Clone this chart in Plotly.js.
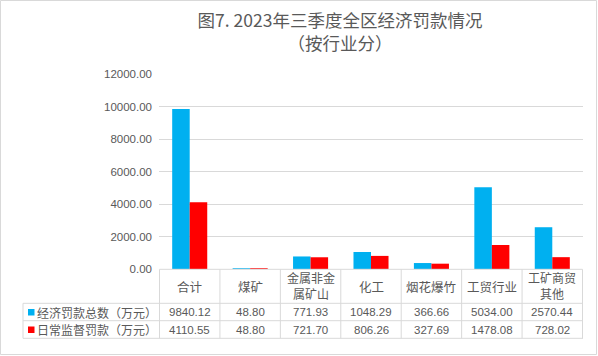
<!DOCTYPE html>
<html>
<head>
<meta charset="utf-8">
<script src="https://cdn.plot.ly/plotly-3.0.1.min.js"></script>
<style>
html,body{margin:0;padding:0;background:#fff;}
#chart{width:598px;height:356px;}
</style>
</head>
<body>
<div id="chart"></div>
<script>
const categories = ['合计', '煤矿', '金属非金属矿山', '化工', '烟花爆竹', '工贸行业', '工矿商贸其他'];
const headerLines = [['合计'], ['煤矿'], ['金属非金', '属矿山'], ['化工'], ['烟花爆竹'], ['工贸行业'], ['工矿商贸', '其他']];
const seriesNames = ['经济罚款总数（万元）', '日常监督罚款（万元）'];
const totalFines = [9840.12, 48.80, 771.93, 1048.29, 366.66, 5034.00, 2570.44];
const dailyFines = [4110.55, 48.80, 721.70, 806.26, 327.69, 1478.08, 728.02];
const yTicks = [0, 2000, 4000, 6000, 8000, 10000, 12000];

const colors = ['#00b0f0', '#ff0000'];
const textColor = '#595959';
const gridColor = '#d9d9d9';
const cjk = '"Noto Sans CJK SC", "Noto Sans", sans-serif';
const num = '"Liberation Sans", Arial, sans-serif';

const W = 598, H = 356;
const L = 159, R = 583, T = 74, B = 269;
const pw = R - L, ph = B - T;
const px = x => (x - L) / pw;
const py = y => (B - y) / ph;

const series = [totalFines, dailyFines];
const traces = series.map((vals, i) => ({
  type: 'bar',
  x: categories,
  y: vals,
  name: seriesNames[i],
  marker: {color: colors[i]},
  hoverinfo: 'x+y'
}));

const rowTop = 269.3, headBot = 303.3, row1Bot = 320.7, row2Bot = 338.3;
const tableLeft = 23;
const shapes = [];
const annotations = [];
const line = {color: gridColor, width: 1};

// outer border
shapes.push({type: 'rect', xref: 'paper', yref: 'paper',
  x0: px(0.5), x1: px(W - 1.5), y0: py(0.5), y1: py(H - 1.5),
  line: {color: gridColor, width: 1}, fillcolor: 'rgba(0,0,0,0)'});

// horizontal table lines
shapes.push({type: 'line', xref: 'x', yref: 'paper', x0: -0.5, x1: categories.length - 0.5, y0: py(rowTop), y1: py(rowTop), line});
[headBot, row1Bot, row2Bot].forEach(yy => {
  shapes.push({type: 'line', xref: 'paper', yref: 'paper', x0: px(tableLeft), x1: 1, y0: py(yy), y1: py(yy), line});
});
// vertical lines
shapes.push({type: 'line', xref: 'paper', yref: 'paper', x0: px(tableLeft), x1: px(tableLeft), y0: py(headBot), y1: py(row2Bot), line});
for (let i = 0; i <= categories.length; i++) {
  shapes.push({type: 'line', xref: 'x', yref: 'paper', x0: i - 0.5, x1: i - 0.5, y0: py(rowTop), y1: py(row2Bot), line});
}

// header labels
headerLines.forEach((lines, i) => {
  const ys = lines.length === 1 ? [286.5] : [277.5, 293];
  lines.forEach((lab, k) => {
    annotations.push({xref: 'x', yref: 'paper', x: i, y: py(ys[k]), text: lab, showarrow: false, borderpad: 0,
      xanchor: 'center', yanchor: 'middle', font: {family: cjk, size: lines.length === 1 ? 12.5 : 12, color: textColor}});
  });
});

// data rows
const rowCenters = [312, 329.5];
series.forEach((vals, r) => {
  vals.forEach((v, i) => {
    annotations.push({xref: 'x', yref: 'paper', x: i, y: py(rowCenters[r]), text: v.toFixed(2), showarrow: false,
      xanchor: 'center', yanchor: 'middle', font: {family: num, size: 11.5, color: textColor}});
  });
  // legend key
  shapes.push({type: 'rect', xref: 'paper', yref: 'paper', x0: px(28), x1: px(34.5),
    y0: py(rowCenters[r] - 3), y1: py(rowCenters[r] + 3.5), fillcolor: colors[r], line: {width: 0}});
  annotations.push({xref: 'paper', yref: 'paper', x: px(35), y: py(rowCenters[r]), text: seriesNames[r], showarrow: false,
    xanchor: 'left', yanchor: 'middle', font: {family: cjk, size: 12, color: textColor}});
});

const layout = {
  width: W, height: H,
  margin: {l: L, r: W - R, t: T, b: H - B, pad: 0},
  paper_bgcolor: '#ffffff', plot_bgcolor: '#ffffff',
  showlegend: false,
  barmode: 'group', bargap: 0.42, bargroupgap: 0,
  title: {
    text: '图7. 2023年三季度全区经济罚款情况<br>（按行业分）',
    xref: 'container', yref: 'container', x: 340 / W, xanchor: 'center',
    y: 1 - 27 / H, yanchor: 'top',
    font: {family: cjk, size: 17.5, color: textColor}
  },
  xaxis: {type: 'category', showticklabels: false, showgrid: false, zeroline: false, showline: false, ticks: ''},
  yaxis: {range: [0, 12000], tickvals: yTicks, tickformat: '.2f', showgrid: true, gridcolor: gridColor, gridwidth: 1,
    zeroline: false, showline: false, ticks: '', ticklabelstandoff: 6,
    tickfont: {family: num, size: 11.5, color: textColor}},
  shapes, annotations
};

Plotly.newPlot('chart', traces, layout, {displayModeBar: false, staticPlot: true});
</script>
</body>
</html>
